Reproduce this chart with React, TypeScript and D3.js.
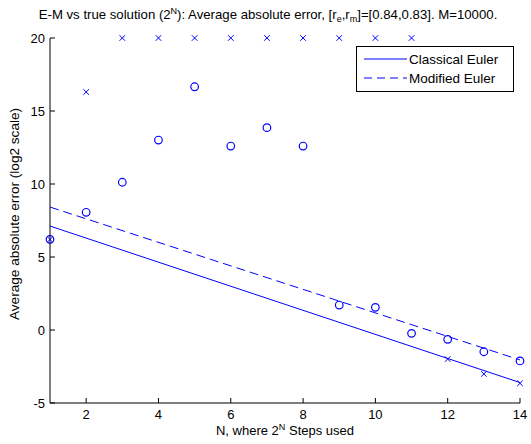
import React from "react";
import * as d3 from "d3";

// N values (2^N steps)
const steps = [1, 2, 3, 4, 5, 6, 7, 8, 9, 10, 11, 12, 13, 14];
// log2 of average absolute error
const classicalErr = [6.2, 16.3, 20, 20, 20, 20, 20, 20, 20, 20, 20, -1.99, -3.01, -3.65];
const modifiedErr = [6.21, 8.06, 10.12, 13.01, 16.66, 12.6, 13.86, 12.6, 1.71, 1.55, -0.23, -0.64, -1.49, -2.12];
// fitted lines, values at N=1 and N=14
const fitN = [1, 14];
const classicalFit = [7.12, -3.6];
const modifiedFit = [8.42, -2.05];

const xTicks = [2, 4, 6, 8, 10, 12, 14];
const yTicks = [-5, 0, 5, 10, 15, 20];

const W = 531;
const H = 444;
const margin = { top: 38, right: 11, bottom: 41, left: 50 };
const blue = "#0000ff";
const font = "Arial, 'Liberation Sans', Helvetica, sans-serif";

const App = () => {
  const x = d3.scaleLinear().domain([1, 14]).range([margin.left, W - margin.right]);
  const y = d3.scaleLinear().domain([-5, 20]).range([H - margin.bottom, margin.top]);

  const line = d3
    .line<number>()
    .x((_, i) => x(fitN[i]))
    .y(d => y(d));

  const x0 = x(1);
  const y0 = y(-5);

  return (
    <svg width={W} height={H} style={{ position: "absolute", left: 0, top: 0, background: "#fff" }} fontFamily={font}>
      {/* title */}
      <text x={268} y={19} fontSize={13.2} textAnchor="middle" fill="#000">
        E-M vs true solution (2
        <tspan fontSize={9} dy={-5}>N</tspan>
        <tspan dy={5}>): Average absolute error, [r</tspan>
        <tspan fontSize={9} dy={3}>e</tspan>
        <tspan dy={-3}>,r</tspan>
        <tspan fontSize={9} dy={3}>m</tspan>
        <tspan dy={-3}>]=[0.84,0.83]. M=10000.</tspan>
      </text>

      {/* fitted lines */}
      <path d={line(classicalFit) || ""} fill="none" stroke={blue} strokeWidth={1} />
      <path d={line(modifiedFit) || ""} fill="none" stroke={blue} strokeWidth={1} strokeDasharray="9,5" />

      {/* classical euler markers */}
      {steps.map((n, i) => {
        const cx = x(n);
        const cy = y(classicalErr[i]);
        const s = 2.8;
        return (
          <path
            key={"x" + n}
            d={`M${cx - s},${cy - s}L${cx + s},${cy + s}M${cx - s},${cy + s}L${cx + s},${cy - s}`}
            stroke={blue}
            strokeWidth={1}
            fill="none"
          />
        );
      })}
      {/* modified euler markers */}
      {steps.map((n, i) => (
        <circle key={"o" + n} cx={x(n)} cy={y(modifiedErr[i])} r={3.8} fill="none" stroke={blue} strokeWidth={1.2} />
      ))}

      {/* axes */}
      <line x1={x0} x2={x0} y1={y(20)} y2={y0} stroke="#000" strokeWidth={1} />
      <line x1={x0} x2={x(14)} y1={y0} y2={y0} stroke="#000" strokeWidth={1} />
      {yTicks.map(t => (
        <g key={"yt" + t}>
          <line x1={x0} x2={x0 + 5} y1={y(t)} y2={y(t)} stroke="#000" />
          <text x={x0 - 5} y={y(t) + 4.5} fontSize={13} textAnchor="end" fill="#000">
            {t}
          </text>
        </g>
      ))}
      {xTicks.map(t => (
        <g key={"xt" + t}>
          <line x1={x(t)} x2={x(t)} y1={y0} y2={y0 - 5} stroke="#000" />
          <text x={x(t)} y={y0 + 16} fontSize={13} textAnchor="middle" fill="#000">
            {t}
          </text>
        </g>
      ))}

      {/* axis labels */}
      <text x={(x0 + x(14)) / 2} y={435} fontSize={13} textAnchor="middle" fill="#000">
        N, where 2<tspan fontSize={9} dy={-5}>N</tspan>
        <tspan dy={5}> Steps used</tspan>
      </text>
      <text transform={`translate(19,214) rotate(-90)`} fontSize={13.6} textAnchor="middle" fill="#000">
        Average absolute error (log2 scale)
      </text>

      {/* legend */}
      <g>
        <rect x={356.5} y={46.5} width={157} height={45} fill="#fff" stroke="#000" strokeWidth={1} />
        <line x1={364} x2={407} y1={59} y2={59} stroke={blue} />
        <text x={409} y={63.5} fontSize={13.5} fill="#000">Classical Euler</text>
        <line x1={364} x2={407} y1={78} y2={78} stroke={blue} strokeDasharray="8,5" />
        <text x={409} y={82.5} fontSize={13.5} fill="#000">Modified Euler</text>
      </g>
    </svg>
  );
};

export default App;
